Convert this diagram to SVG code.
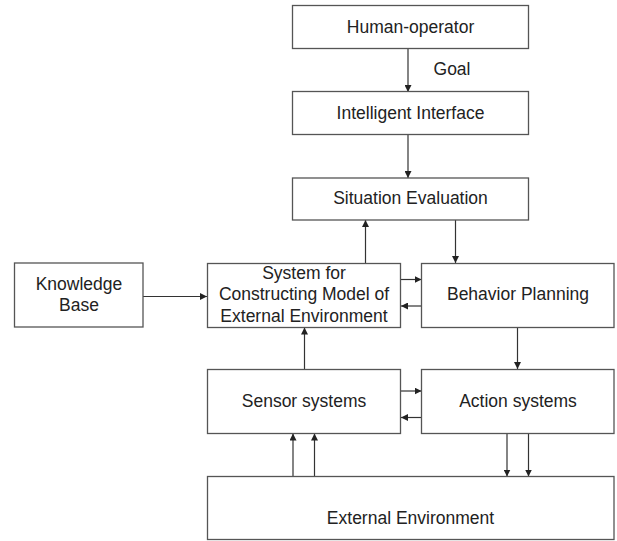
<svg xmlns="http://www.w3.org/2000/svg" width="617" height="541" viewBox="0 0 617 541">
  <defs>
    <marker id="arrow" viewBox="0 0 10 10" refX="10" refY="5" markerWidth="7" markerHeight="7" markerUnits="userSpaceOnUse" orient="auto">
      <path d="M0,0 L10,5 L0,10 Z" fill="#222"/>
    </marker>
    <style>
      .box { fill: #fff; stroke: #555; stroke-width: 1.3; }
      .lbl { font-family: "Liberation Sans", Arial, sans-serif; font-size: 17.5px; fill: #222; text-anchor: middle; }
      .edge { fill: none; stroke: #333; stroke-width: 1.2; marker-end: url(#arrow); }
    </style>
  </defs>
  <rect width="617" height="541" fill="#fff"/>

  <g id="connectors">
    <line class="edge" x1="408" y1="48" x2="408" y2="92"/>
    <line class="edge" x1="408" y1="134" x2="408" y2="178"/>
    <line class="edge" x1="365.5" y1="263" x2="365.5" y2="220"/>
    <line class="edge" x1="455.5" y1="220" x2="455.5" y2="263"/>
    <line class="edge" x1="143" y1="296.5" x2="207" y2="296.5"/>
    <line class="edge" x1="401" y1="279.5" x2="421.5" y2="279.5"/>
    <line class="edge" x1="421.5" y1="306" x2="401" y2="306"/>
    <line class="edge" x1="304.5" y1="369" x2="304.5" y2="327.5"/>
    <line class="edge" x1="517.5" y1="327.5" x2="517.5" y2="369"/>
    <line class="edge" x1="401" y1="391" x2="421.5" y2="391"/>
    <line class="edge" x1="421.5" y1="417.5" x2="401" y2="417.5"/>
    <line class="edge" x1="293" y1="476.5" x2="293" y2="433.5"/>
    <line class="edge" x1="314.5" y1="476.5" x2="314.5" y2="433.5"/>
    <line class="edge" x1="507" y1="433.5" x2="507" y2="476.5"/>
    <line class="edge" x1="528.5" y1="433.5" x2="528.5" y2="476.5"/>
    <text class="lbl" x="452" y="75">Goal</text>
  </g>

  <g id="human-operator">
    <rect class="box" x="292.5" y="5.5" width="236" height="43"/>
    <text class="lbl" x="410.5" y="33">Human-operator</text>
  </g>
  <g id="intelligent-interface">
    <rect class="box" x="292.5" y="91.5" width="236" height="43"/>
    <text class="lbl" x="410.5" y="118.5">Intelligent Interface</text>
  </g>
  <g id="situation-evaluation">
    <rect class="box" x="292.5" y="178" width="236" height="42"/>
    <text class="lbl" x="410.5" y="203.5">Situation Evaluation</text>
  </g>
  <g id="knowledge-base">
    <rect class="box" x="14.5" y="263" width="128.5" height="64"/>
    <text class="lbl" x="79" y="289.5">Knowledge</text>
    <text class="lbl" x="79" y="311">Base</text>
  </g>
  <g id="model-system">
    <rect class="box" x="207.5" y="263.5" width="193" height="64"/>
    <text class="lbl" x="304" y="278.5">System for</text>
    <text class="lbl" x="304" y="300">Constructing Model of</text>
    <text class="lbl" x="304" y="321.5">External Environment</text>
  </g>
  <g id="behavior-planning">
    <rect class="box" x="421.5" y="263.5" width="192.5" height="64"/>
    <text class="lbl" x="518" y="300">Behavior Planning</text>
  </g>
  <g id="sensor-systems">
    <rect class="box" x="207.5" y="369.5" width="193" height="64"/>
    <text class="lbl" x="304" y="407">Sensor systems</text>
  </g>
  <g id="action-systems">
    <rect class="box" x="421.5" y="369.5" width="192.5" height="64"/>
    <text class="lbl" x="518" y="407">Action systems</text>
  </g>
  <g id="external-environment">
    <rect class="box" x="207.5" y="476.5" width="406.5" height="63"/>
    <text class="lbl" x="410.5" y="524">External Environment</text>
  </g>
</svg>
